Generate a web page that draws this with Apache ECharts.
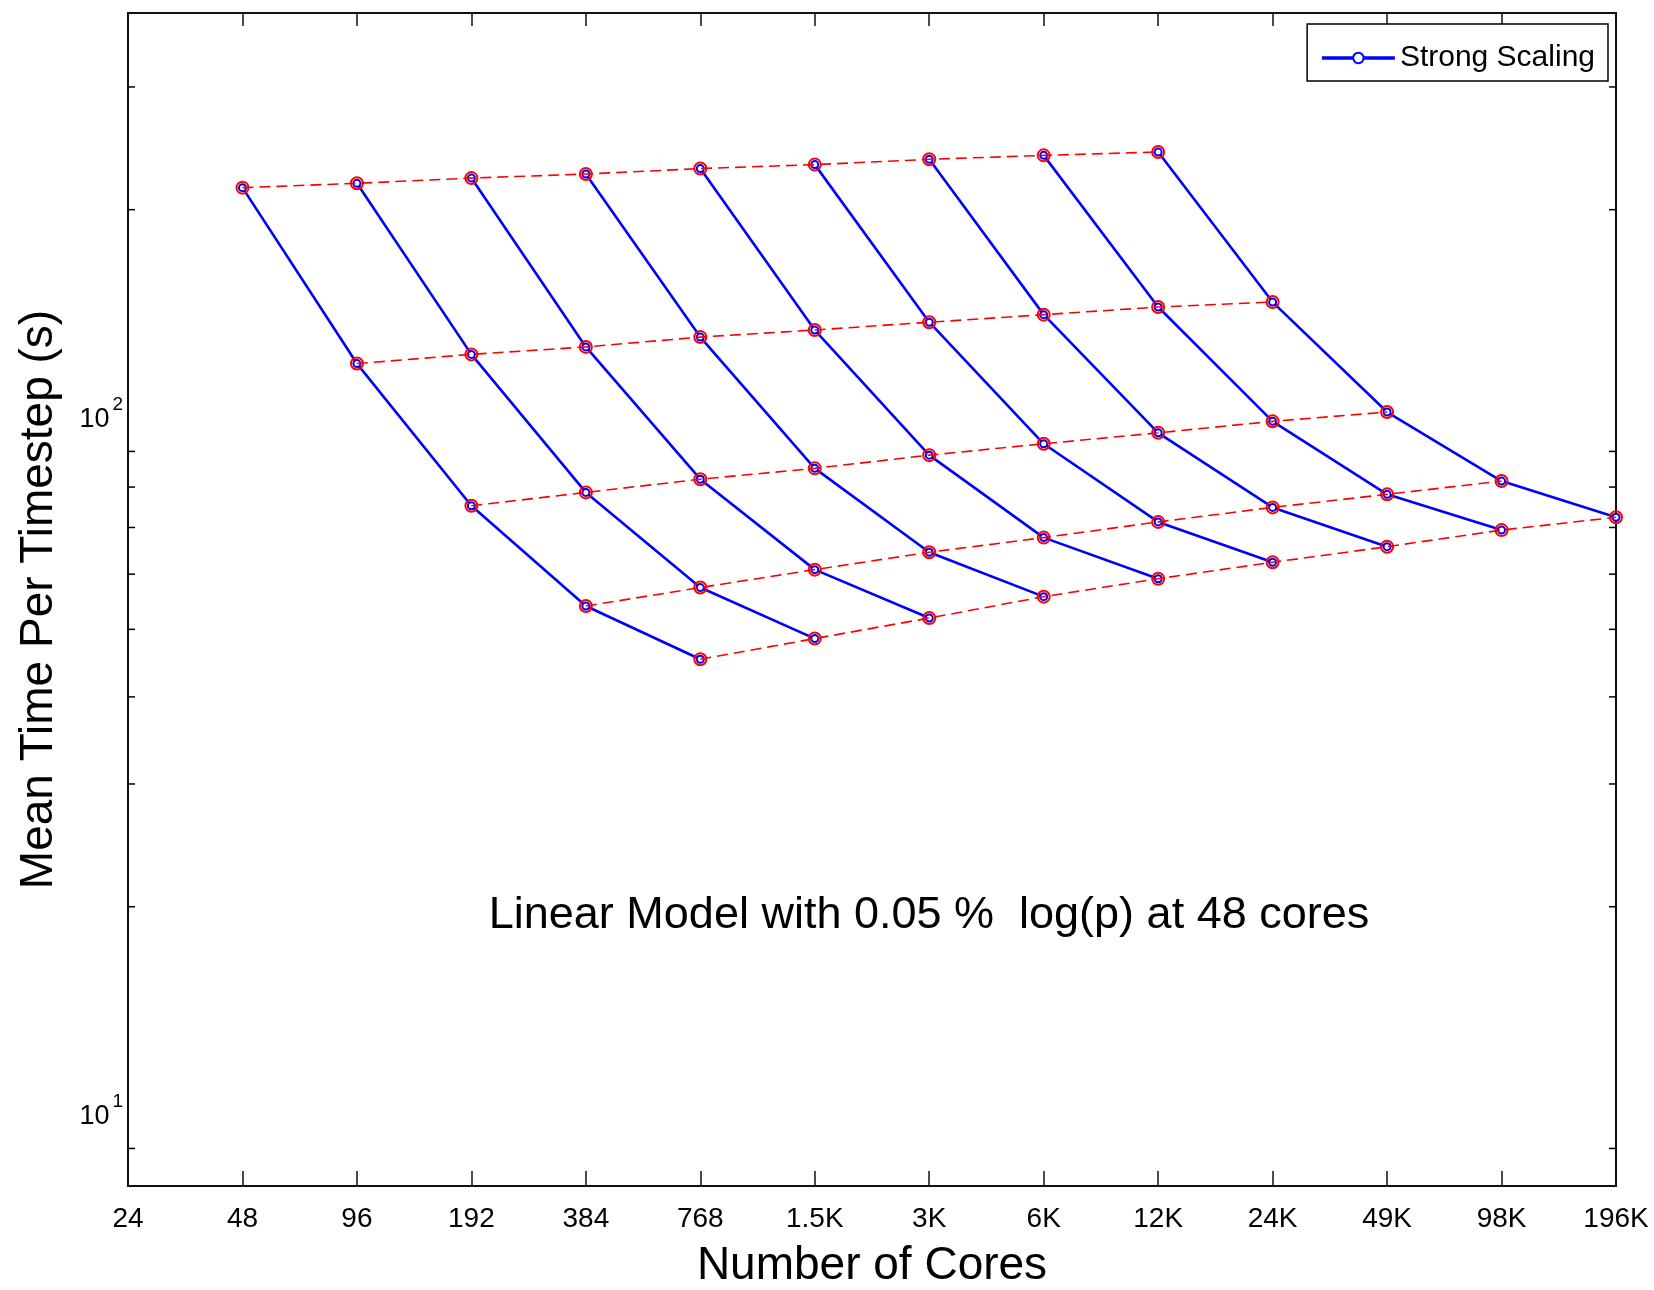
<!DOCTYPE html>
<html><head><meta charset="utf-8">
<script src="https://cdn.jsdelivr.net/npm/echarts@6/dist/echarts.min.js"></script>
<style>html,body{margin:0;padding:0;background:#fff}#c{width:1654px;height:1290px}</style>
</head><body><div id="c"></div>
<script>
// x tick labels (number of cores, doubling each step)
const coreLabels = ['24','48','96','192','384','768','1.5K','3K','6K','12K','24K','49K','98K','196K'];
// Strong-scaling runs: column index of first point, then 5 successive doublings (seconds)
const strongStartCols = [1, 2, 3, 4, 5, 6, 7, 8, 9];
const strong48   = [215.1, 120.3, 75.2, 54.0, 45.3];
const strong96   = [218.2, 124.0, 78.6, 57.4, 48.5];
const strong192  = [222.0, 127.1, 82.1, 60.9, 51.9];
const strong384  = [225.0, 131.3, 85.1, 64.5, 55.7];
const strong768  = [229.1, 134.4, 88.9, 67.7, 59.1];
const strong1_5K = [232.1, 137.9, 92.3, 71.3, 62.4];
const strong3K   = [236.2, 141.4, 95.7, 74.8, 65.7];
const strong6K   = [239.3, 145.0, 99.4, 78.1, 69.4];
const strong12K  = [242.0, 147.4, 102.5, 81.6, 72.4];
const yMin = 7.95, yMax = 383;
const minorTickValues = [9, 20, 30, 40, 50, 60, 70, 80, 90, 200, 300];
const annotationText = 'Linear Model with 0.05 %  log(p) at 48 cores';

const strongRuns = [strong48, strong96, strong192, strong384, strong768, strong1_5K, strong3K, strong6K, strong12K];
const FONT = '"Liberation Sans", Arial, Helvetica, sans-serif';
const series = [];
strongRuns.forEach((run, j) => {
  series.push({
    type: 'line', name: 'Strong Scaling', z: 2,
    data: run.map((v, k) => [strongStartCols[j] + k, v]),
    symbol: 'emptyCircle', symbolSize: 7, showSymbol: true,
    lineStyle: { color: '#0000ff', width: 2.6 },
    itemStyle: { color: '#0000ff', borderColor: '#0000ff', borderWidth: 2 },
    animation: false, silent: true
  });
});
for (let k = 0; k < 5; k++) {
  series.push({
    type: 'line', name: 'Weak Scaling', z: 3,
    data: strongRuns.map((run, j) => [strongStartCols[j] + k, run[k]]),
    symbol: 'circle', symbolSize: 12, showSymbol: true,
    lineStyle: { color: '#ff0000', width: 1.6, type: [11, 6] },
    itemStyle: { color: 'rgba(0,0,0,0)', borderColor: '#ff0000', borderWidth: 2 },
    animation: false, silent: true
  });
}
series.push({
  type: 'custom', name: 'minorTicks', silent: true, z: 5, animation: false,
  data: minorTickValues.map(v => [0, v]),
  renderItem: (params, api) => {
    const y = api.coord([0, api.value(1)])[1];
    const cs = params.coordSys;
    return { type: 'group', children: [
      { type: 'line', shape: { x1: cs.x, y1: y, x2: cs.x + 7, y2: y }, style: { stroke: '#000', lineWidth: 1.5 } },
      { type: 'line', shape: { x1: cs.x + cs.width - 7, y1: y, x2: cs.x + cs.width, y2: y }, style: { stroke: '#000', lineWidth: 1.5 } }
    ]};
  }
});

const axisLine = { show: true, onZero: false, lineStyle: { color: '#111', width: 2 } };
const chart = echarts.init(document.getElementById('c'), null, { renderer: 'canvas' });
chart.setOption({
  animation: false,
  backgroundColor: '#fff',
  textStyle: { fontFamily: FONT, color: '#000' },
  grid: { left: 128, right: 38, top: 13, bottom: 104, containLabel: false, outerBoundsMode: 'none' },
  legend: {
    data: ['Strong Scaling'], right: 46, top: 24, selectedMode: false,
    padding: [19, 13, 8, 13], itemWidth: 73, itemHeight: 13,
    borderColor: '#000', borderWidth: 1.5, backgroundColor: '#fff',
    lineStyle: { width: 3.5 },
    textStyle: { fontSize: 30, color: '#000', fontFamily: FONT }
  },
  xAxis: [{
    type: 'category', data: coreLabels, boundaryGap: false, position: 'bottom',
    axisLine: axisLine,
    axisTick: { inside: true, length: 15, alignWithLabel: true, interval: 0, lineStyle: { color: '#111', width: 1.5 } },
    axisLabel: { interval: 0, fontSize: 28, color: '#000', margin: 19, fontFamily: FONT },
    splitLine: { show: false },
    name: 'Number of Cores', nameLocation: 'middle', nameGap: 57,
    nameTextStyle: { fontSize: 46, color: '#000', fontFamily: FONT }
  }, {
    type: 'category', data: coreLabels, boundaryGap: false, position: 'top',
    axisLine: axisLine,
    axisTick: { inside: true, length: 13, interval: 0, lineStyle: { color: '#111', width: 1.5 } },
    axisLabel: { show: false }, splitLine: { show: false }
  }],
  yAxis: [{
    type: 'log', logBase: 10, min: yMin, max: yMax, position: 'left',
    axisLine: axisLine,
    axisTick: { inside: true, length: 14, lineStyle: { color: '#111', width: 1.5 } },
    splitLine: { show: false },
    axisLabel: {
      margin: 5, color: '#000', fontFamily: FONT,
      formatter: v => {
        const e = Math.log10(v);
        return Math.abs(e - Math.round(e)) < 1e-6 ? '{b|10}{s|' + Math.round(e) + '}' : '';
      },
      rich: {
        b: { fontSize: 27, color: '#000', fontFamily: FONT },
        s: { fontSize: 19, color: '#000', fontFamily: FONT, padding: [0, 0, 30, 3] }
      }
    },
    name: 'Mean Time Per Timestep (s)', nameLocation: 'middle', nameGap: 66, nameRotate: 90,
    nameTextStyle: { fontSize: 46, color: '#000', fontFamily: FONT }
  }, {
    type: 'log', logBase: 10, min: yMin, max: yMax, position: 'right',
    axisLine: axisLine,
    axisTick: { inside: true, length: 14, lineStyle: { color: '#111', width: 1.5 } },
    splitLine: { show: false }, axisLabel: { show: false }
  }],
  graphic: [{
    type: 'text', x: 929, y: 916, silent: true,
    style: { text: annotationText, fill: '#000', font: '45px ' + FONT, align: 'center', verticalAlign: 'middle' }
  }],
  series: series
});
</script></body></html>
